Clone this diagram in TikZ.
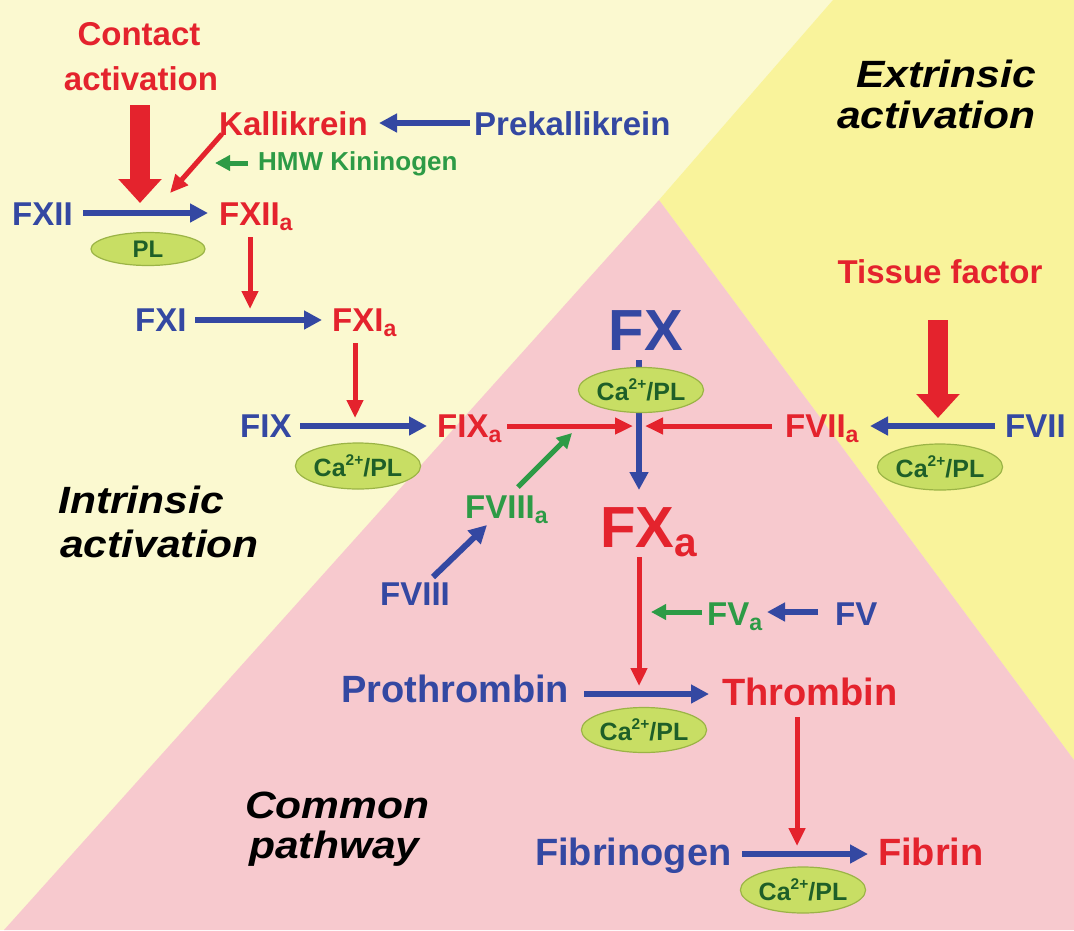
\documentclass[tikz,border=0pt]{standalone}
\usepackage{fontspec}
\setmainfont{Liberation Sans}
\newfontfamily\lblfont{Liberation Sans}[FakeStretch=1.12]
\usepackage{graphicx}
\usetikzlibrary{arrows.meta,shapes.geometric}
\definecolor{creambg}{RGB}{251,249,208}
\definecolor{yelbg}{RGB}{249,243,155}
\definecolor{pinkbg}{RGB}{247,201,206}
\definecolor{fblue}{RGB}{52,72,162}
\definecolor{fred}{RGB}{228,35,45}
\definecolor{fgreen}{RGB}{45,155,70}
\definecolor{ellfill}{RGB}{200,222,100}
\definecolor{elldraw}{RGB}{155,180,70}
\definecolor{elltext}{RGB}{30,95,40}
\newcommand\subA{\raisebox{-0.17em}{\scalebox{0.7}{a}}}
\newcommand\CaPL{Ca\raisebox{0.42em}{\scalebox{0.62}{2+}}/PL}
\begin{document}
\begin{tikzpicture}[x=1pt,y=-1pt,
  lab/.style={inner sep=0pt,anchor=base west,font=\bfseries\fontsize{33pt}{33pt}\selectfont},
  biglab/.style={lab,font=\bfseries\fontsize{38pt}{38pt}\selectfont},
  hugelab/.style={lab,font=\bfseries\fontsize{58pt}{58pt}\selectfont},
  itlab/.style={inner sep=0pt,anchor=base west,font=\lblfont\bfseries\itshape\fontsize{38pt}{38pt}\selectfont,text=black},
  cofactor/.style={ellipse,draw=elldraw,line width=1.2pt,fill=ellfill,inner sep=0pt,
     minimum width=125pt,minimum height=46pt,text=elltext,font=\bfseries\fontsize{25pt}{25pt}\selectfont},
  bluearr/.style={draw=fblue,line width=6pt,-{Triangle[length=18pt,width=18pt]},fblue},
  redarr/.style={draw=fred,line width=5pt,-{Triangle[length=18pt,width=16pt]},fred},
  greenarr/.style={draw=fgreen,line width=5pt,-{Triangle[length=15pt,width=15pt]},fgreen},
  fatarr/.style={draw=fred,line width=20pt,-{Triangle[length=24pt,width=42pt]},fred}]
\useasboundingbox (0,0) rectangle (1074,930);
% backgrounds
\fill[creambg] (0,0) rectangle (1074,930);
\fill[yelbg] (833,0) -- (1074,0) -- (1074,760) -- (659,200) -- cycle;
\fill[pinkbg] (659,200) -- (1074,760) -- (1074,930) -- (4,930) -- cycle;

% texts
\node[lab,anchor=base,text=fred] (contact1) at (139,45) {Contact};
\node[lab,anchor=base,text=fred] (contact2) at (141,90) {activation};
\node[lab,text=fred] (kal) at (219,135) {Kallikrein};
\node[lab,text=fblue] (prek) at (474,135) {Prekallikrein};
\node[lab,text=fgreen,font=\bfseries\fontsize{26pt}{26pt}\selectfont] (hmw) at (258,170) {HMW Kininogen};
\node[lab,text=fblue] (fxii) at (12,225) {FXII};
\node[lab,text=fred] (fxiia) at (219,225) {FXII\subA};
\node[lab,text=fblue] (fxi) at (135,331) {FXI};
\node[lab,text=fred] (fxia) at (332,331) {FXI\subA};
\node[lab,text=fblue] (fix) at (240,437) {FIX};
\node[lab,text=fred] (fixa) at (437,437) {FIX\subA};
\node[hugelab,anchor=base,text=fblue] (fx) at (646,350) {FX};
\node[hugelab,text=fred] (fxa) at (600,547) {FX\subA};
\node[lab,text=fred] (fviia) at (785,437) {FVII\subA};
\node[lab,text=fblue] (fvii) at (1005,437) {FVII};
\node[lab,anchor=base,text=fred] (tf) at (940,283) {Tissue factor};
\node[itlab,anchor=base east] (ext1) at (1036,87) {Extrinsic};
\node[itlab,anchor=base east] (ext2) at (1036,128) {activation};
\node[itlab] (int1) at (58,513) {Intrinsic};
\node[itlab] (int2) at (60,557) {activation};
\node[lab,text=fgreen] (fviiia) at (465,518) {FVIII\subA};
\node[lab,text=fblue] (fviii) at (380,605) {FVIII};
\node[lab,text=fgreen] (fva) at (707,625) {FV\subA};
\node[lab,text=fblue] (fv) at (835,625) {FV};
\node[biglab,text=fblue] (proth) at (341,702) {Prothrombin};
\node[biglab,text=fred] (thromb) at (722,705) {Thrombin};
\node[itlab] (com1) at (245,818) {Common};
\node[itlab] (com2) at (249,858) {pathway};
\node[biglab,text=fblue] (fibgen) at (535,865) {Fibrinogen};
\node[biglab,text=fred] (fibrin) at (878,865) {Fibrin};

% connector end points
\coordinate (caA) at (140,105);  \coordinate (caB) at (140,203);
\coordinate (pkA) at (470,123);  \coordinate (pkB) at (379,123);
\coordinate (kdA) at (222,134);  \coordinate (kdB) at (170,193);
\coordinate (hmA) at (248,163);  \coordinate (hmB) at (215,163);
\coordinate (x12A) at (83,213);  \coordinate (x12B) at (208,213);
\coordinate (d12A) at (250,237); \coordinate (d12B) at (250,309);
\coordinate (x11A) at (195,320); \coordinate (x11B) at (322,320);
\coordinate (d11A) at (355,343); \coordinate (d11B) at (355,418);
\coordinate (x9A) at (300,426);  \coordinate (x9B) at (427,426);
\coordinate (r9A) at (507,426);  \coordinate (r9B) at (633,426);
\coordinate (r7A) at (772,426);  \coordinate (r7B) at (645,426);
\coordinate (x7A) at (995,426);  \coordinate (x7B) at (870,426);
\coordinate (tfA) at (938,320);  \coordinate (tfB) at (938,418);
\coordinate (fxA) at (639,360);  \coordinate (fxB) at (639,490);
\coordinate (g8A) at (518,487);  \coordinate (g8B) at (572,433);
\coordinate (b8A) at (433,577);  \coordinate (b8B) at (487,525);
\coordinate (dxA) at (639,557);  \coordinate (dxB) at (639,686);
\coordinate (g5A) at (702,612);  \coordinate (g5B) at (651,612);
\coordinate (b5A) at (818,612);  \coordinate (b5B) at (767,612);
\coordinate (ptA) at (584,694);  \coordinate (ptB) at (709,694);
\coordinate (dtA) at (797,717);  \coordinate (dtB) at (797,846);
\coordinate (fbA) at (742,854);  \coordinate (fbB) at (868,854);

% connectors
\draw[fatarr] (caA) -- (caB);
\draw[bluearr] (pkA) -- (pkB);
\draw[redarr] (kdA) -- (kdB);
\draw[greenarr] (hmA) -- (hmB);
\draw[bluearr] (x12A) -- (x12B);
\draw[redarr] (d12A) -- (d12B);
\draw[bluearr] (x11A) -- (x11B);
\draw[redarr] (d11A) -- (d11B);
\draw[bluearr] (x9A) -- (x9B);
\draw[redarr] (r9A) -- (r9B);
\draw[redarr] (r7A) -- (r7B);
\draw[bluearr] (x7A) -- (x7B);
\draw[fatarr] (tfA) -- (tfB);
\draw[bluearr] (fxA) -- (fxB);
\draw[greenarr] (g8A) -- (g8B);
\draw[bluearr] (b8A) -- (b8B);
\draw[redarr] (dxA) -- (dxB);
\draw[greenarr] (g5A) -- (g5B);
\draw[bluearr] (b5A) -- (b5B);
\draw[bluearr] (ptA) -- (ptB);
\draw[redarr] (dtA) -- (dtB);
\draw[bluearr] (fbA) -- (fbB);

% cofactor ellipses
\node[cofactor,minimum width=114pt,minimum height=33pt,font=\bfseries\fontsize{24pt}{24pt}\selectfont] (pl) at (148,249) {PL};
\node[cofactor] (ca1) at (358,466) {\CaPL};
\node[cofactor,minimum width=122pt,minimum height=45pt] (ca2) at (641,390) {\CaPL};
\node[cofactor] (ca3) at (940,467) {\CaPL};
\node[cofactor,minimum height=45pt] (ca4) at (644,730) {\CaPL};
\node[cofactor] (ca5) at (803,890) {\CaPL};
\end{tikzpicture}
\end{document}
